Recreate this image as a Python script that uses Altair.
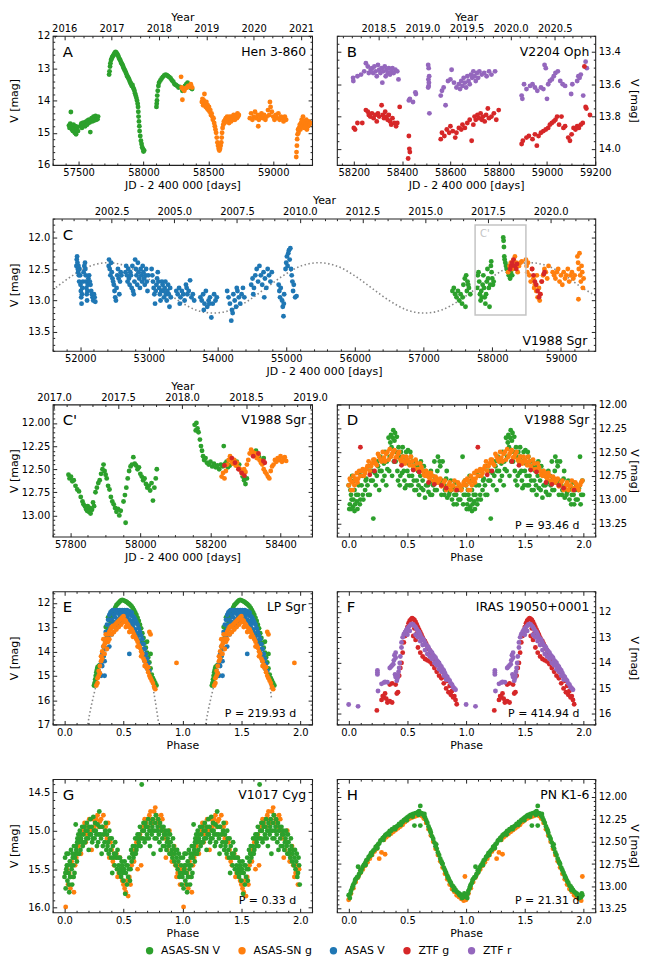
import math
import pandas as pd
import altair as alt

FONT = "DejaVu Sans"
SERIES = ["ASAS-SN V", "ASAS-SN g", "ASAS V", "ZTF g", "ZTF r"]
COLORS = ["#2ca02c", "#ff7f0e", "#1f77b4", "#d62728", "#9467bd"]
JD_TITLE = "JD - 2 400 000 [days]"
PHASE_TITLE = "Phase"
Y_TITLE = "V [mag]"
YEAR_TITLE = "Year"
NAMES = {"A": "Hen 3-860", "B": "V2204 Oph", "C": "V1988 Sgr", "C'": "V1988 Sgr",
         "D": "V1988 Sgr", "E": "LP Sgr", "F": "IRAS 19050+0001", "G": "V1017 Cyg", "H": "PN K1-6"}
PERIODS = {"D": "P = 93.46 d", "E": "P = 219.93 d", "F": "P = 414.94 d", "G": "P = 0.33 d", "H": "P = 21.31 d"}

# ---------------- Panel A : Hen 3-860 (JD, V) ----------------
A_SNV = [(57425,14.78),(57430,14.85),(57435,14.72),(57440,14.36),(57442,14.8),(57448,14.9),(57452,14.82),
         (57455,14.95),(57460,14.75),(57465,14.88),(57470,15.0),(57475,14.8),(57480,15.05),(57485,14.9),
         (57490,14.82),(57495,14.95),(57515,14.8),(57520,14.72),(57525,14.85),(57530,14.7),(57540,14.75),
         (57545,14.68),(57550,14.8),(57555,14.7),(57560,14.65),(57565,14.75),(57570,14.62),(57575,14.7),
         (57580,14.6),(57585,14.68),(57590,14.98),(57595,14.62),(57600,14.55),(57605,14.65),(57610,14.58),
         (57615,14.5),(57620,14.62),(57625,14.55),(57630,14.48),(57635,14.6),(57640,14.52),(57645,14.58),
         (57650,14.5),
         (57735,13.2),(57738,13.1),(57742,12.95),(57745,12.85),(57750,12.75),(57755,12.7),(57760,12.65),
         (57765,12.62),(57770,12.6),(57775,12.55),(57780,12.52),(57785,12.5),(57790,12.52),(57795,12.55),
         (57800,12.58),(57805,12.62),(57810,12.68),(57815,12.72),(57820,12.75),(57825,12.8),(57830,12.85),
         (57835,12.88),(57840,12.92),(57845,12.98),(57850,13.02),(57855,13.06),(57860,13.1),(57865,13.15),
         (57870,13.2),(57875,13.25),(57880,13.28),(57885,13.32),(57890,13.36),(57895,13.42),(57900,13.45),
         (57905,13.5),(57910,13.55),(57915,13.52),(57920,13.6),(57925,13.65),(57930,13.7),(57935,13.78),
         (57940,13.85),(57945,13.92),(57950,14.0),(57955,14.1),(57958,14.2),(57960,14.35),(57962,14.5),
         (57965,14.65),(57968,14.8),(57970,14.95),(57975,15.1),(57980,15.25),(57985,15.35),(57990,15.45),
         (57995,15.5),(58000,15.58),(58005,15.55),
         (58100,14.2),(58102,14.1),(58104,14.0),(58106,13.85),(58110,13.7),(58115,13.55),(58120,13.45),
         (58130,13.38),(58140,13.32),(58150,13.27),(58160,13.23),(58170,13.2),(58180,13.22),(58190,13.25),
         (58200,13.28),(58210,13.32),(58220,13.38),(58230,13.42),(58240,13.5),(58250,13.52),(58260,13.55),
         (58270,13.6),(58280,13.58),(58300,13.7),(58310,13.62),(58320,13.55),(58330,13.5),(58340,13.45),
         (58350,13.55),(58360,13.6),(58370,13.62),(58375,13.65)]
A_SNG = [(58290,13.27),(58295,13.6),(58300,13.98),(58305,13.65),(58315,13.7),(58325,13.62),(58335,13.6),
         (58345,13.55),(58355,13.58),(58365,13.5),(58375,13.6),
         (58450,14.05),(58455,13.95),(58460,14.15),(58465,14.0),(58470,13.8),(58475,14.1),(58480,14.2),
         (58485,14.05),(58490,14.25),(58495,14.15),(58500,14.3),(58505,14.2),(58510,14.35),(58515,14.3),
         (58520,14.45),(58525,14.4),(58530,14.5),(58535,14.6),(58540,14.55),(58545,14.7),(58550,14.8),
         (58555,14.9),(58560,15.0),(58565,15.15),(58570,15.3),(58575,15.4),(58580,15.5),(58585,15.55),
         (58590,15.5),(58595,15.4),(58600,15.3),(58603,15.15),(58606,15.0),(58610,14.85),(58615,14.75),
         (58620,14.65),(58625,14.7),(58630,14.6),(58635,14.55),(58640,14.65),(58645,14.5),(58650,14.6),
         (58655,14.55),(58660,14.7),(58665,14.5),(58670,14.6),(58675,14.65),(58680,14.5),(58685,14.55),
         (58690,14.6),(58695,14.45),(58700,14.55),(58705,14.6),(58710,14.5),(58715,14.45),(58720,14.55),
         (58725,14.4),(58730,14.5),(58735,14.45),
         (58820,14.55),(58830,14.4),(58840,14.6),(58850,14.5),(58860,14.35),(58870,14.55),(58880,14.45),
         (58885,14.8),(58890,14.6),(58900,14.5),(58910,14.4),(58920,14.55),(58930,14.45),(58940,14.6),
         (58950,14.5),(58960,14.3),(58970,14.45),(58975,14.05),(58980,14.2),(58990,14.35),(59000,14.5),
         (59010,14.6),(59020,14.45),(59030,14.55),(59040,14.4),(59050,14.6),(59060,14.5),(59070,14.55),
         (59080,14.65),(59090,14.5),(59100,14.6),
         (59178,15.75),(59180,15.6),(59183,15.4),(59185,15.2),(59188,15.05),(59192,14.9),(59195,15.0),
         (59200,14.85),(59205,14.75),(59210,14.9),(59215,14.7),(59220,14.6),(59225,14.8),(59230,14.5),
         (59235,14.7),(59240,14.85),(59245,14.65),(59250,14.75),(59255,14.6),(59260,14.9),(59265,14.7),
         (59270,14.8),(59275,14.65),(59280,14.75),(59285,14.7)]

# ---------------- Panel B : V2204 Oph ----------------
B_ZR = [(58197,13.56),(58198,13.58),(58215,13.55),(58230,13.54),(58243,13.52),(58250,13.47),(58258,13.49),
        (58262,13.53),(58270,13.51),(58275,13.5),(58280,13.53),(58285,13.49),(58290,13.52),(58295,13.55),
        (58300,13.48),(58305,13.51),(58310,13.53),(58315,13.5),(58318,13.59),(58322,13.52),(58328,13.49),
        (58332,13.55),(58336,13.51),(58340,13.53),(58345,13.5),(58350,13.54),(58355,13.52),(58360,13.5),
        (58365,13.53),(58372,13.51),(58380,13.52),(58385,13.57),(58428,13.7),(58432,13.69),(58445,13.71),
        (58455,13.65),(58457,13.66),(58508,13.48),(58510,13.5),(58509,13.57),(58511,13.59),(58510,13.61),
        (58508,13.62),(58512,13.55),(58513,13.78),(58560,13.67),(58565,13.64),(58572,13.62),(58580,13.73),
        (58590,13.58),(58600,13.57),(58605,13.51),(58615,13.59),(58625,13.62),(58635,13.6),(58640,13.63),
        (58645,13.58),(58650,13.61),(58655,13.56),(58660,13.59),(58665,13.62),(58670,13.55),(58675,13.58),
        (58680,13.6),(58685,13.54),(58690,13.56),(58695,13.52),(58700,13.55),(58705,13.58),(58710,13.53),
        (58715,13.56),(58720,13.52),(58730,13.54),(58740,13.53),(58750,13.55),(58760,13.52),(58770,13.54),
        (58785,13.52),(58895,13.67),(58898,13.69),(58905,13.6),(58915,13.63),(58930,13.61),(58940,13.6),
        (58950,13.62),(58960,13.64),(58975,13.62),(58985,13.63),(58990,13.48),(58995,13.5),(59000,13.69),
        (59005,13.6),(59012,13.58),(59020,13.57),(59028,13.55),(59035,13.53),(59045,13.52),(59055,13.58),
        (59065,13.6),(59075,13.61),(59100,13.66),(59105,13.6),(59125,13.58),(59130,13.55),(59135,13.56),
        (59140,13.54),(59150,13.67),(59160,13.46),(59165,13.5)]
B_ZG = [(58200,13.87),(58205,13.88),(58215,13.84),(58235,13.84),(58250,13.76),(58258,13.77),(58262,13.79),
        (58268,13.8),(58275,13.78),(58282,13.81),(58288,13.79),(58295,13.83),(58300,13.78),(58305,13.8),
        (58315,13.73),(58320,13.79),(58325,13.81),(58330,13.77),(58335,13.8),(58340,13.82),(58345,13.79),
        (58350,13.83),(58355,13.85),(58360,13.81),(58368,13.84),(58375,13.86),(58380,13.84),(58390,13.74),
        (58428,13.92),(58430,14.0),(58432,14.02),(58425,14.06),(58560,13.94),(58565,13.9),(58575,13.92),
        (58585,13.88),(58595,13.9),(58600,13.86),(58610,13.89),(58620,13.93),(58625,13.9),(58635,13.87),
        (58645,13.88),(58650,13.85),(58660,13.87),(58670,13.84),(58680,13.82),(58688,13.95),(58695,13.85),
        (58700,13.8),(58705,13.82),(58712,13.79),(58718,13.81),(58725,13.78),(58730,13.82),(58735,13.8),
        (58742,13.83),(58748,13.79),(58755,13.75),(58760,13.81),(58770,13.8),(58780,13.78),(58790,13.82),
        (58800,13.76),(58895,13.97),(58900,13.95),(58915,13.93),(58925,13.92),(58940,13.94),(58950,13.91),
        (58958,13.98),(58965,13.92),(58975,13.9),(58985,13.89),(58995,13.88),(59005,13.87),(59012,13.85),
        (59020,13.84),(59028,13.83),(59035,13.82),(59042,13.8),(59050,13.85),(59060,13.8),(59068,13.87),
        (59075,13.86),(59088,13.93),(59095,13.95),(59102,13.91),(59110,13.87),(59118,13.88),(59125,13.86),
        (59132,13.87),(59140,13.85),(59148,13.84),(59155,13.49),(59160,13.74),(59163,13.75),(59178,13.79)]

# ---------------- Panel C : V1988 Sgr long term ----------------
C_ASV = [(51945,12.45),(51950,12.35),(51955,12.3),(51960,12.4),(51965,12.5),(51970,12.55),(51975,12.45),
         (51980,12.6),(51985,12.7),(51990,12.5),(52000,12.6),(52005,12.75),(52010,12.85),(52015,12.95),
         (52020,13.05),(52025,12.9),(52030,12.8),(52040,12.7),(52050,12.55),(52060,12.45),(52070,12.4),
         (52075,12.5),(52080,12.6),(52085,12.7),(52090,12.8),(52095,12.9),(52100,13.0),(52105,12.85),
         (52110,12.75),(52120,12.65),(52130,12.6),(52140,12.7),(52150,12.75),(52160,12.85),(52170,12.9),
         (52180,12.95),(52190,13.0),(52200,12.9),(52210,12.95),(52220,13.02),
         (52415,12.45),(52420,12.35),(52430,12.5),(52440,12.6),(52450,12.4),(52460,12.55),(52470,12.65),
         (52480,12.7),(52490,12.75),(52500,12.85),(52510,12.95),(52520,13.0),(52530,12.8),(52540,12.6),
         (52550,12.5),(52560,12.65),(52570,12.9),(52580,12.7),(52590,12.55),(52600,12.6),
         (52660,12.55),(52670,12.45),(52680,12.6),(52690,12.7),(52700,12.5),(52710,12.65),(52720,12.75),
         (52730,12.55),(52740,12.6),(52750,12.8),(52760,12.45),(52770,12.85),(52780,12.9),(52790,12.7),
         (52800,12.35),(52810,12.5),(52820,12.6),(52830,12.75),(52840,12.4),(52850,12.55),(52860,12.65),
         (52870,12.8),(52880,12.5),(52890,12.6),(52900,12.7),(52910,12.45),(52920,12.55),(52930,12.65),
         (52940,12.75),(52950,12.6),(52960,12.5),(52970,12.7),(52980,12.85),(52990,12.6),
         (53040,12.5),(53050,12.6),(53060,12.7),(53070,12.8),(53080,12.9),(53090,13.05),(53100,12.85),
         (53110,12.75),(53120,12.65),(53130,12.55),(53140,12.7),(53150,12.8),(53160,12.9),(53170,13.0),
         (53180,12.85),(53190,12.7),(53200,12.75),(53210,12.85),(53220,12.95),(53230,12.8),(53240,12.7),
         (53250,12.9),(53260,13.0),(53270,12.85),(53280,12.75),(53290,12.9),(53300,13.1),(53310,12.8),
         (53320,12.95),
         (53400,12.85),(53420,12.9),(53440,12.8),(53460,12.95),(53480,12.85),(53500,12.9),(53520,13.0),
         (53540,12.75),(53560,12.9),(53580,12.85),(53600,12.68),(53620,12.95),(53640,12.9),(53660,13.0),
         (53450,13.05),(53550,12.8),
         (53750,12.95),(53770,13.0),(53790,12.9),(53810,13.05),(53830,12.85),(53850,13.1),(53870,13.0),
         (53890,12.95),(53910,13.27),(53930,13.05),(53950,12.9),(53970,13.0),(53990,12.95),(53800,13.15),
         (53880,13.05),
         (54140,12.85),(54160,12.95),(54180,13.05),(54200,13.32),(54210,13.15),(54230,12.9),(54250,13.0),
         (54270,13.1),(54290,12.85),(54310,12.95),(54330,13.05),(54350,12.9),(54370,12.8),(54390,12.95),
         (54220,13.2),(54280,12.8),
         (54490,12.75),(54510,12.65),(54530,12.8),(54550,12.6),(54570,12.5),(54590,12.7),(54610,12.45),
         (54630,12.6),(54650,12.75),(54670,12.55),(54690,12.65),(54710,12.8),(54730,12.5),(54750,12.6),
         (54770,12.7),(54790,12.55),(54520,12.9),(54680,12.95),
         (54890,12.75),(54900,12.85),(54910,12.95),(54920,12.8),(54940,13.0),(54950,13.1),(54960,13.25),
         (54965,13.05),(54970,12.9),(54990,12.5),(55000,12.4),(55010,12.3),(55020,12.45),(55030,12.25),
         (55040,12.2),(55050,12.35),(55060,12.17),(55070,12.5),(55080,12.6),(55090,12.7),(55100,12.85),
         (55110,12.75),(55130,12.95),(55150,12.93)]
C_SNV = [(57420,12.85),(57440,12.8),(57460,12.9),(57480,12.95),(57500,12.85),(57520,13.0),(57540,12.9),
         (57560,13.05),(57580,12.75),(57600,12.65),(57620,12.6),(57640,12.7),(57660,12.8),(57680,12.9),
         (57610,13.1),(57570,12.95),(57630,12.85),(57650,12.75),
         (57780,12.8),(57790,12.6),(57800,12.55),(57810,12.7),(57820,12.9),(57830,13.0),(57840,12.85),
         (57850,12.95),(57860,12.75),(57870,12.6),(57880,12.8),(57890,12.95),(57900,13.05),(57910,12.9),
         (57920,12.7),(57930,12.5),(57940,12.65),(57950,12.8),(57960,13.1),(57970,12.75),(57980,12.45),
         (57990,12.55),(58000,12.65),(58010,12.75),(57985,12.38),(58020,12.7),
         (58160,12.0),(58165,12.05),(58170,12.15),(58175,12.3),(58180,12.35),(58190,12.4),(58200,12.45),
         (58210,12.5),(58220,12.45),(58230,12.55),(58240,12.6),(58250,12.5),(58260,12.65),(58270,12.55),
         (58280,12.45),(58290,12.6),(58300,12.5)]
C_SNG = [(58230,12.55),(58250,12.45),(58270,12.4),(58290,12.5),(58310,12.35),(58330,12.3),(58350,12.4),
         (58370,12.55),(58390,12.45),(58410,12.4),(58430,12.38),
         (58490,12.35),(58500,12.45),(58510,12.55),(58520,12.4),(58540,12.6),(58560,12.7),(58580,12.5),
         (58600,12.65),(58620,12.75),(58640,12.85),(58660,12.95),(58680,12.8),(58700,12.9),(58720,12.7),
         (58740,12.6),(58760,12.5),(58780,12.55),(58800,12.65),(58820,12.45),(58690,13.0),(58650,12.6),
         (58610,12.8),
         (58880,12.55),(58900,12.6),(58920,12.65),(58940,12.55),(58960,12.5),(58980,12.7),(59000,12.6),
         (59020,12.75),(59040,12.55),(59060,12.65),(59080,12.6),(59100,12.5),(59120,12.7),(59140,12.6),
         (59160,12.55),(59180,12.65),(59200,12.6),
         (59240,12.3),(59250,12.4),(59260,12.5),(59270,12.25),(59280,12.6),(59290,12.7),(59300,12.45),
         (59310,12.55),(59320,12.8),(59330,12.65),(59255,12.98)]
C_ZG = [(58260,12.5),(58275,12.45),(58290,12.4),(58310,12.35),(58330,12.45),(58350,12.5),(58360,12.42),
        (58580,12.5),(58600,12.6),(58620,12.7),(58640,12.75),(58660,12.85),(58680,12.95),(58700,12.9),
        (58720,12.7),(58760,12.55),(58750,12.58)]
C_MODEL = [(51600,12.83),(51638,12.8),(51894,12.6),(52149,12.45),(52405,12.4),(52661,12.45),(52917,12.6),
           (53173,12.8),(53428,13.0),(53684,13.15),(53940,13.2),(54196,13.15),(54452,13.0),(54707,12.8),
           (54963,12.6),(55219,12.45),(55475,12.4),(55731,12.45),(55987,12.6),(56242,12.8),(56498,13.0),
           (56754,13.15),(57010,13.2),(57266,13.15),(57521,13.0),(57777,12.8),(58033,12.6),(58289,12.45),
           (58545,12.4),(58801,12.45),(59056,12.6),(59312,12.8),(59500,12.92)]

# ---------------- Panel C' : V1988 Sgr zoom ----------------
CP_SNV = [(57795,12.56),(57798,12.6),(57802,12.58),(57806,12.63),(57810,12.62),(57815,12.68),(57820,12.72),
          (57825,12.74),(57830,12.8),(57835,12.85),(57838,12.88),(57842,12.9),(57845,12.93),(57848,12.95),
          (57850,12.9),(57853,12.96),(57856,12.92),(57858,12.98),(57862,12.94),(57865,12.86),(57868,12.9),
          (57872,12.75),(57876,12.7),(57880,12.65),(57884,12.62),(57888,12.55),(57892,12.5),(57895,12.45),
          (57898,12.52),(57901,12.56),(57904,12.6),(57908,12.68),(57912,12.72),(57916,12.8),(57920,12.85),
          (57924,12.88),(57928,12.92),(57932,12.96),(57936,12.93),(57940,13.0),(57944,12.95),(57958,13.08),
          (57952,12.85),(57956,12.78),(57960,12.7),(57964,12.6),(57968,12.52),(57972,12.47),(57976,12.45),
          (57980,12.37),(57984,12.44),(57988,12.46),(57992,12.5),(57996,12.48),(58000,12.55),(58004,12.58),
          (58008,12.62),(58012,12.6),(58016,12.66),(58020,12.7),(58024,12.68),(58028,12.73),(58032,12.65),
          (58036,12.84),(58040,12.7),(58044,12.6),(58047,12.5),
          (58155,12.02),(58158,12.08),(58160,12.0),(58163,12.06),(58166,12.1),(58170,12.18),(58173,12.25),
          (58176,12.3),(58179,12.36),(58182,12.4),(58186,12.38),(58190,12.43),(58195,12.45),(58200,12.42),
          (58205,12.47),(58210,12.44),(58215,12.48),(58220,12.46),(58225,12.5),(58230,12.45),(58235,12.47),
          (58238,12.25),(58242,12.44),(58246,12.42),(58250,12.48),(58255,12.46),(58275,12.42),(58282,12.45),
          (58292,12.58),(58296,12.62),(58300,12.66),(58304,12.6),(58330,12.3),(58338,12.36),(58345,12.4),
          (58352,12.38)]
CP_SNG = [(58232,12.58),(58236,12.54),(58240,12.6),(58244,12.52),(58248,12.45),(58252,12.4),(58256,12.36),
          (58260,12.42),(58264,12.44),(58268,12.4),(58272,12.46),(58276,12.43),(58280,12.48),(58284,12.5),
          (58288,12.52),(58292,12.55),(58296,12.5),(58300,12.53),(58304,12.45),(58308,12.4),(58312,12.33),
          (58316,12.29),(58320,12.31),(58324,12.35),(58328,12.33),(58332,12.38),(58336,12.35),(58340,12.4),
          (58344,12.43),(58348,12.45),(58352,12.5),(58356,12.53),(58360,12.55),(58364,12.58),(58368,12.6),
          (58372,12.52),(58376,12.47),(58380,12.45),(58384,12.4),(58388,12.42),(58392,12.38),(58396,12.4),
          (58400,12.36),(58404,12.42),(58408,12.39),(58412,12.37),(58416,12.41)]
CP_ZG = [(58240,12.46),(58261,12.38),(58270,12.43),(58280,12.5),(58289,12.54),(58297,12.57),(58322,12.36),
         (58337,12.33),(58351,12.41),(58355,12.43)]

# ---------------- Panel D : V1988 Sgr folded (phase 0-1) ----------------
D_SNV = [(0.00,12.85),(0.01,13.05),(0.02,12.95),(0.02,13.1),(0.03,12.75),(0.04,13.0),(0.05,12.9),(0.05,13.12),
         (0.06,12.8),(0.07,13.02),(0.08,12.95),(0.09,12.72),(0.10,13.0),(0.11,12.85),(0.12,12.95),(0.13,12.7),
         (0.14,12.9),(0.15,12.78),(0.16,12.85),(0.17,12.65),(0.18,12.95),(0.19,12.8),(0.20,12.7),(0.21,13.2),
         (0.22,12.6),(0.23,12.85),(0.24,12.75),(0.25,12.65),(0.26,12.9),(0.27,12.55),(0.28,12.7),(0.29,12.8),
         (0.30,12.62),(0.31,12.5),(0.32,12.85),(0.33,12.68),(0.34,12.35),(0.35,12.55),(0.36,12.32),(0.37,12.75),
         (0.38,12.27),(0.39,12.38),(0.40,12.6),(0.41,12.34),(0.42,12.8),(0.43,12.55),(0.44,12.75),(0.45,12.6),
         (0.46,12.45),(0.47,12.7),(0.48,12.88),(0.49,12.5),(0.50,12.7),(0.51,12.62),(0.52,12.85),(0.53,12.55),
         (0.54,12.75),(0.55,12.68),(0.56,12.9),(0.57,12.6),(0.58,12.8),(0.59,12.7),(0.60,12.95),(0.61,12.75),
         (0.62,12.88),(0.63,12.8),(0.64,12.65),(0.65,12.98),(0.66,12.85),(0.67,12.75),(0.68,12.92),(0.69,12.82),
         (0.70,12.7),(0.71,12.95),(0.72,12.85),(0.73,12.6),(0.74,12.78),(0.75,12.9),(0.76,12.55),(0.77,12.82),
         (0.78,12.65),(0.79,12.95),(0.80,12.6),(0.81,12.85),(0.82,12.9),(0.83,12.78),(0.84,12.98),(0.85,12.85),
         (0.86,12.92),(0.87,12.8),(0.88,13.0),(0.89,12.88),(0.90,12.95),(0.91,12.82),(0.92,13.05),(0.93,12.9),
         (0.94,12.85),(0.95,13.0),(0.96,12.88),(0.97,12.55),(0.98,12.95),(0.99,12.8),
         (0.005,13.1),(0.015,12.9),(0.025,13.0),(0.035,13.08),(0.045,12.8),(0.055,13.05),(0.065,12.95),
         (0.075,13.1),(0.085,12.85),(0.095,13.05),(0.115,12.75),(0.125,13.0),(0.145,12.8),(0.165,12.95),
         (0.185,12.7),(0.205,12.8),(0.225,12.72),(0.245,12.6),(0.265,12.7),(0.285,12.6),(0.305,12.75),
         (0.325,12.6),(0.345,12.7),(0.355,12.4),(0.365,12.45),(0.375,12.35),(0.385,12.6),(0.395,12.3),
         (0.405,12.5),(0.415,12.7),(0.425,12.45),(0.435,12.85),(0.445,12.5),(0.455,12.72),(0.465,12.55),
         (0.475,12.8),(0.485,12.6),(0.495,12.85),(0.505,12.48),(0.515,12.75),(0.525,12.5),(0.535,12.85),
         (0.545,12.6),(0.555,12.8),(0.565,12.65),(0.575,12.9),(0.585,12.65),(0.595,12.85),(0.615,12.6),
         (0.635,12.9),(0.655,12.7),(0.675,12.85),(0.695,12.95),(0.715,12.75),(0.735,12.9),(0.755,12.7),
         (0.775,12.6),(0.795,12.8),(0.815,12.95),(0.835,12.7),(0.855,12.95),(0.875,12.9),(0.895,13.05),
         (0.915,12.95),(0.935,13.0),(0.955,12.9),(0.975,13.05),(0.995,12.95)]
D_SNG = [(0.00,12.85),(0.01,12.78),(0.02,12.9),(0.03,12.82),(0.04,12.75),(0.05,12.85),(0.06,12.8),(0.07,12.72),
         (0.08,12.78),(0.09,12.7),(0.10,12.75),(0.12,12.68),(0.14,12.72),(0.16,12.65),(0.18,12.7),(0.20,12.62),
         (0.22,12.58),(0.24,12.64),(0.26,12.55),(0.28,12.6),(0.30,12.56),(0.32,12.52),(0.34,12.58),(0.35,12.47),
         (0.36,12.55),(0.38,12.5),(0.40,12.56),(0.42,12.52),(0.44,12.58),(0.46,12.55),(0.48,12.62),(0.50,12.58),
         (0.52,12.64),(0.54,12.6),(0.56,12.68),(0.58,12.62),(0.60,12.7),(0.62,12.66),(0.64,12.74),(0.66,12.7),
         (0.68,12.76),(0.70,12.72),(0.72,12.8),(0.74,12.76),(0.76,12.82),(0.78,12.78),(0.80,12.85),(0.82,12.8),
         (0.84,12.88),(0.86,12.82),(0.88,12.86),(0.90,12.8),(0.92,12.88),(0.94,12.84),(0.96,12.9),(0.98,12.82),
         (0.53,12.55),(0.57,12.58),(0.45,12.6),
         (0.015,12.8),(0.035,12.9),(0.055,12.78),(0.075,12.82),(0.11,12.7),(0.13,12.75),(0.15,12.68),
         (0.17,12.6),(0.19,12.65),(0.21,12.58),(0.23,12.62),(0.25,12.52),(0.27,12.58),(0.29,12.5),(0.31,12.6),
         (0.33,12.5),(0.37,12.52),(0.39,12.48),(0.41,12.55),(0.43,12.5),(0.47,12.6),(0.49,12.55),(0.51,12.6),
         (0.55,12.65),(0.59,12.68),(0.61,12.62),(0.63,12.7),(0.65,12.75),(0.67,12.72),(0.69,12.78),(0.71,12.75),
         (0.73,12.82),(0.75,12.78),(0.77,12.8),(0.79,12.86),(0.81,12.82),(0.83,12.9),(0.85,12.85),(0.87,12.9),
         (0.89,12.85),(0.91,12.9),(0.93,12.82),(0.95,12.88),(0.97,12.85),(0.99,12.8)]
D_ZG = [(0.10,12.45),(0.18,12.74),(0.22,12.7),(0.39,12.6),(0.45,12.64),(0.55,12.69),(0.60,12.71),(0.68,12.82),
        (0.73,12.84),(0.79,12.85),(0.83,12.88),(0.92,12.9)]

# ---------------- Panel E : LP Sgr folded ----------------
E_SNV = [(0.25,15.4),(0.255,15.3),(0.26,15.15),(0.265,15.0),(0.27,14.85),(0.275,14.75),(0.28,14.65),(0.29,14.6),
         (0.30,14.55),(0.32,14.4),(0.33,14.2),(0.34,13.9),(0.35,13.6),(0.36,13.35),(0.37,13.1),(0.38,12.9),
         (0.39,12.75),(0.40,12.6),(0.41,12.45),(0.42,12.3),(0.43,12.2),(0.44,12.1),(0.45,12.05),(0.46,12.0),
         (0.47,11.95),(0.48,11.9),(0.49,11.88),(0.50,11.9),(0.51,11.92),(0.52,11.95),(0.53,11.98),(0.54,12.02),
         (0.55,12.05),(0.56,12.1),(0.57,12.15),(0.58,12.22),(0.59,12.3),(0.60,12.4),(0.61,12.5),(0.62,12.62),
         (0.63,12.75),(0.64,12.9),(0.65,13.05),(0.66,13.25),(0.67,13.45),(0.68,13.65),(0.69,13.85),(0.70,14.05),
         (0.71,14.25),(0.72,14.45),(0.73,14.7),(0.74,14.95),(0.75,15.1),(0.76,15.2),(0.77,15.3),(0.78,15.4),
         (0.35,13.0),(0.37,12.6),(0.42,12.55),(0.62,13.3),(0.66,13.6),(0.70,13.6),(0.73,14.1),(0.68,14.3)]
E_ASV = [(0.30,14.9),(0.31,15.0),(0.32,14.6),(0.33,14.2),(0.33,13.8),(0.34,13.5),(0.34,14.4),(0.35,13.2),
         (0.35,13.9),(0.36,12.9),(0.36,13.6),(0.37,12.7),(0.37,13.4),(0.38,12.5),(0.38,13.1),(0.38,13.8),
         (0.39,12.4),(0.39,12.9),(0.40,12.35),(0.40,12.7),(0.40,13.3),(0.41,12.3),(0.41,13.0),(0.42,12.5),
         (0.42,12.8),(0.43,12.3),(0.43,12.6),(0.44,12.4),(0.44,12.9),(0.45,12.3),(0.45,12.7),(0.46,12.45),
         (0.46,12.95),(0.47,12.3),(0.47,12.6),(0.48,12.4),(0.48,12.8),(0.49,12.3),(0.49,12.55),(0.50,12.35),
         (0.50,12.7),(0.51,12.3),(0.51,12.5),(0.52,12.4),(0.52,12.75),(0.53,12.3),(0.53,12.6),(0.54,12.45),
         (0.54,12.85),(0.55,12.35),(0.55,14.1),(0.55,12.7),(0.56,12.5),(0.56,12.9),(0.57,12.4),(0.57,12.75),
         (0.58,12.55),(0.58,13.0),(0.59,12.6),(0.59,12.85),(0.60,12.7),(0.60,13.1),(0.61,12.8),(0.61,13.25),
         (0.62,12.9),(0.62,13.4),(0.63,13.05),(0.63,13.55),(0.64,13.2),(0.64,13.7),(0.65,13.35),(0.65,13.9),
         (0.66,13.5),(0.66,14.05),(0.67,13.7),(0.67,14.2),(0.68,13.9),(0.68,14.4),(0.69,14.1),(0.69,14.55),
         (0.70,14.3),(0.70,14.7),(0.71,14.5),(0.72,14.8),(0.34,15.0),(0.32,14.1),(0.31,14.5)]
E_SNG = [(0.27,15.4),(0.28,15.3),(0.28,15.1),(0.29,15.0),(0.29,14.8),(0.30,14.6),(0.30,14.9),(0.31,14.4),
         (0.31,14.2),(0.32,14.0),(0.32,14.3),(0.33,13.8),(0.33,13.5),(0.34,13.7),(0.34,14.1),(0.35,13.6),
         (0.35,13.3),(0.36,13.5),(0.36,13.9),(0.37,13.3),(0.37,13.6),(0.38,13.2),(0.38,13.5),(0.39,13.1),
         (0.40,13.0),(0.40,13.3),(0.41,12.95),(0.42,13.0),(0.42,13.2),(0.43,12.9),(0.44,12.85),(0.44,13.1),
         (0.45,12.8),(0.46,12.75),(0.46,13.0),(0.47,12.7),(0.48,12.65),(0.48,12.9),(0.49,12.6),(0.50,12.55),
         (0.50,12.8),(0.51,12.7),(0.52,12.75),(0.52,13.0),(0.53,12.85),(0.54,12.9),(0.55,13.0),(0.55,13.2),
         (0.56,13.05),(0.57,13.1),(0.58,13.2),(0.58,13.4),(0.59,13.3),(0.60,13.4),(0.61,13.5),(0.62,13.6),
         (0.62,13.8),(0.63,13.75),(0.64,13.85),(0.65,14.0),(0.65,14.2),(0.66,14.1),(0.67,14.3),(0.68,14.4),
         (0.68,14.6),(0.69,14.55),(0.70,14.7),(0.71,14.85),(0.71,14.65),(0.72,15.0),(0.73,15.1),(0.74,15.2),
         (0.75,15.3),(0.76,15.45),(0.77,15.55),(0.72,13.2),(0.73,13.3),(0.95,14.47)]
E_MODEL1 = [(0.197,17.0),(0.22,16.4),(0.25,15.75),(0.28,15.15),(0.31,14.6),(0.34,14.1),(0.37,13.65),(0.40,13.25),
            (0.43,12.95),(0.46,12.7),(0.49,12.55),(0.52,12.5),(0.55,12.55),(0.58,12.7),(0.61,12.95),(0.64,13.3),
            (0.67,13.75),(0.70,14.3),(0.73,14.95),(0.76,15.75),(0.80,17.0)]
E_MODEL2 = [(1.197,17.0),(1.22,16.4),(1.25,15.75),(1.28,15.15),(1.31,14.6),(1.34,14.1),(1.37,13.65),(1.40,13.25),
            (1.43,12.95),(1.46,12.7),(1.49,12.55),(1.52,12.5),(1.55,12.55),(1.58,12.7),(1.61,12.95),(1.64,13.3),
            (1.67,13.75),(1.70,14.3),(1.73,14.95),(1.755,15.9)]

# ---------------- Panel F : IRAS 19050+0001 folded ----------------
F_ZG = [(0.24,15.86),(0.28,15.45),(0.29,15.3),(0.30,15.35),(0.31,15.2),(0.32,15.4),(0.33,15.55),(0.35,15.5),
        (0.37,15.55),(0.35,14.85),(0.37,14.8),(0.40,14.85),(0.41,15.2),(0.42,15.15),(0.43,14.5),(0.44,14.2),
        (0.45,14.0),(0.46,13.6),(0.47,13.2),(0.48,12.95),(0.49,12.75),(0.50,12.6),(0.51,12.45),(0.52,12.35),
        (0.53,12.3),(0.54,12.25),(0.55,12.28),(0.56,12.32),(0.57,12.4),(0.58,12.5),(0.59,12.6),(0.60,12.7),
        (0.61,12.8),(0.62,12.9),(0.63,13.0),(0.64,13.1),(0.65,13.15),(0.66,13.25),(0.67,13.35),(0.68,13.45),
        (0.69,13.5),(0.70,13.6),(0.72,13.75),(0.74,13.9),(0.76,14.05),(0.78,14.2),(0.80,14.35),(0.82,14.5),
        (0.84,14.7),(0.86,14.9),(0.88,15.1),(0.90,15.3),(0.91,15.45),(0.92,15.62),(0.55,12.95),(0.57,13.1),
        (0.59,13.4),(0.61,13.6),(0.63,13.75),(0.65,13.85),(0.67,13.9),(0.69,13.95),(0.71,14.05),(0.73,14.2),
        (0.75,14.35),(0.77,14.5),(0.79,14.6),(0.81,14.8),(0.83,15.0),(0.85,15.15),(0.87,15.25),(0.89,15.35),
        (0.56,12.65),(0.58,12.85)]
F_ZR = [(0.00,15.63),(0.08,15.7),(0.245,14.3),(0.245,14.38),(0.245,14.45),(0.25,15.1),(0.28,14.82),(0.30,14.77),
        (0.31,14.75),(0.33,14.76),(0.35,14.2),(0.36,14.15),(0.37,14.1),(0.38,14.05),(0.385,13.9),(0.39,13.7),
        (0.40,13.6),(0.40,13.8),(0.395,14.45),(0.40,14.55),(0.41,14.7),(0.415,14.6),(0.42,14.5),(0.425,14.35),
        (0.43,14.2),(0.435,14.0),(0.44,13.75),(0.45,13.4),(0.45,13.2),(0.46,13.0),(0.47,12.88),(0.48,12.8),
        (0.49,12.72),(0.50,12.65),(0.51,12.6),(0.52,12.55),(0.53,12.5),(0.54,12.48),(0.55,12.5),(0.56,12.55),
        (0.57,12.6),(0.58,12.68),(0.59,12.75),(0.60,12.8),(0.61,12.9),(0.62,13.0),(0.63,13.05),(0.64,13.1),
        (0.65,13.2),(0.66,13.3),(0.67,13.35),(0.68,13.4),(0.69,13.5),(0.70,13.55),(0.71,13.6),(0.72,13.7),
        (0.73,13.75),(0.74,13.8),(0.75,13.9),(0.76,13.95),(0.77,14.0),(0.78,14.1),(0.79,14.15),(0.80,14.25),
        (0.81,14.3),(0.82,14.4),(0.83,14.5),(0.84,14.55),(0.85,14.65),(0.86,14.7),(0.87,14.8),(0.88,14.85),
        (0.89,14.95),(0.90,15.0),(0.91,15.05),(0.57,12.9),(0.59,13.0),(0.61,13.15),(0.63,13.3),(0.65,13.5),
        (0.67,13.65),(0.69,13.75),(0.71,13.85),(0.73,14.0),(0.75,14.1),(0.77,14.25),(0.79,14.35),(0.81,14.5),
        (0.83,14.65),(0.50,12.9),(0.52,12.75)]

# ---------------- Panel G : V1017 Cyg folded ----------------
G_SNG = [(0.01,15.99),(0.02,15.5),(0.03,15.7),(0.05,15.75),(0.06,15.4),(0.08,15.8),(0.10,15.35),(0.12,15.2),
         (0.14,15.3),(0.16,15.0),(0.18,15.15),(0.20,14.95),(0.22,15.0),(0.24,14.85),(0.26,14.9),(0.28,14.8),
         (0.30,14.88),(0.32,14.95),(0.33,14.8),(0.34,15.05),(0.36,15.1),(0.38,15.35),(0.40,15.25),(0.42,15.45),
         (0.44,15.3),(0.46,15.55),(0.48,15.5),(0.50,15.7),(0.52,15.8),(0.54,15.85),(0.55,15.6),(0.57,15.45),
         (0.59,15.4),(0.61,15.15),(0.63,15.1),(0.65,15.45),(0.67,15.0),(0.69,14.9),(0.71,14.95),(0.73,14.75),
         (0.75,14.9),(0.77,14.7),(0.79,14.85),(0.81,14.95),(0.83,14.85),(0.85,15.1),(0.87,15.25),(0.89,15.0),
         (0.91,15.4),(0.93,15.2),(0.95,15.6),(0.97,15.45),(0.99,15.5),(0.23,15.25),(0.37,14.9),(0.47,15.35),
         (0.62,15.5),(0.86,15.35),
         (0.04,15.55),(0.07,15.6),(0.09,15.45),(0.11,15.3),(0.13,15.1),(0.15,15.15),(0.17,14.9),(0.19,15.05),
         (0.21,14.85),(0.25,14.95),(0.27,14.85),(0.29,14.95),(0.31,14.85),(0.35,14.95),(0.39,15.15),(0.41,15.4),
         (0.43,15.35),(0.45,15.6),(0.49,15.65),(0.51,15.75),(0.53,15.65),(0.56,15.7),(0.58,15.3),(0.60,15.25),
         (0.64,15.05),(0.66,14.95),(0.68,14.85),(0.70,14.85),(0.72,14.8),(0.74,14.85),(0.76,14.75),(0.78,14.8),
         (0.80,14.9),(0.82,14.8),(0.84,15.0),(0.88,15.15),(0.90,15.3),(0.92,15.3),(0.94,15.45),(0.96,15.55),
         (0.98,15.7)]
G_SNV = [(0.00,15.6),(0.005,15.35),(0.01,15.75),(0.015,15.5),(0.02,15.45),(0.025,15.65),(0.03,15.3),(0.035,15.55),
         (0.04,15.8),(0.045,15.4),(0.05,15.6),(0.055,15.25),(0.06,15.5),(0.065,15.7),(0.07,15.35),(0.075,15.45),
         (0.08,15.2),(0.085,15.55),(0.09,15.3),(0.095,14.92),(0.10,15.25),(0.105,15.4),(0.11,15.1),(0.115,15.3),
         (0.12,15.15),(0.13,15.0),(0.135,15.25),(0.14,15.1),(0.15,14.95),(0.155,15.2),(0.16,15.05),(0.17,14.95),
         (0.175,15.15),(0.18,15.0),(0.19,14.9),(0.20,15.1),(0.205,15.25),(0.21,14.95),(0.22,14.85),(0.225,15.05),
         (0.23,14.95),(0.24,15.1),(0.245,14.82),(0.25,15.0),(0.26,14.9),(0.27,15.05),(0.275,15.2),(0.28,14.92),
         (0.29,15.05),(0.295,14.75),(0.30,14.95),(0.31,15.1),(0.315,15.3),(0.32,14.95),(0.33,15.05),(0.34,15.15),
         (0.35,14.9),(0.355,15.25),(0.36,15.05),(0.37,15.15),(0.38,15.0),(0.39,15.25),(0.40,15.1),(0.405,15.55),
         (0.41,15.2),(0.42,15.3),(0.43,15.15),(0.44,15.35),(0.45,15.25),(0.46,15.45),(0.47,15.35),(0.48,15.6),
         (0.49,15.45),(0.50,15.65),(0.51,15.4),(0.515,15.82),(0.52,15.55),(0.53,15.7),(0.535,15.45),(0.54,15.6),
         (0.55,15.35),(0.56,15.5),(0.565,15.25),(0.57,15.4),(0.58,15.2),(0.59,15.3),(0.60,15.1),(0.61,15.25),
         (0.62,15.05),(0.63,15.15),(0.64,14.95),(0.65,15.1),(0.655,14.4),(0.66,15.0),(0.67,14.9),(0.68,15.15),
         (0.69,14.95),(0.70,15.05),(0.71,14.85),(0.72,15.0),(0.725,15.2),(0.73,14.9),(0.74,15.05),(0.75,14.85),
         (0.755,15.3),(0.76,15.0),(0.77,14.9),(0.775,14.8),(0.78,15.1),(0.79,14.95),(0.80,15.05),(0.81,14.9),
         (0.815,15.25),(0.82,15.0),(0.83,15.1),(0.84,14.95),(0.85,15.2),(0.86,15.05),(0.87,15.15),(0.88,15.0),
         (0.89,15.3),(0.90,15.15),(0.91,15.25),(0.92,15.1),(0.93,15.4),(0.94,15.25),(0.95,15.35),(0.96,15.5),
         (0.97,15.3),(0.98,15.55),(0.99,15.45),(0.995,15.7),
         (0.0075,15.55),(0.0175,15.3),(0.0275,15.45),(0.0375,15.7),(0.0475,15.6),(0.0575,15.45),(0.0675,15.3),
         (0.0775,15.6),(0.0875,15.35),(0.0975,15.2),(0.1075,15.15),(0.1175,15.05),(0.125,15.3),(0.138,15.05),
         (0.145,15.15),(0.165,15.15),(0.185,15.1),(0.195,15.0),(0.215,15.05),(0.235,15.15),(0.255,15.1),
         (0.265,15.0),(0.285,15.15),(0.305,15.05),(0.325,15.2),(0.345,15.0),(0.365,15.2),(0.375,15.3),
         (0.385,15.1),(0.395,15.35),(0.415,15.35),(0.425,15.45),(0.435,15.3),(0.445,15.5),(0.455,15.35),
         (0.465,15.55),(0.475,15.5),(0.485,15.4),(0.495,15.55),(0.505,15.5),(0.525,15.45),(0.545,15.5),
         (0.555,15.65),(0.575,15.3),(0.585,15.35),(0.595,15.2),(0.605,15.3),(0.615,15.1),(0.625,15.2),
         (0.635,15.05),(0.645,15.2),(0.665,15.1),(0.675,15.0),(0.685,14.9),(0.695,15.1),(0.705,14.95),
         (0.715,15.1),(0.735,15.0),(0.745,14.95),(0.765,15.1),(0.785,15.0),(0.795,14.85),(0.805,15.15),
         (0.825,14.95),(0.835,15.2),(0.845,15.05),(0.855,15.0),(0.865,15.25),(0.875,15.1),(0.885,15.2),
         (0.895,15.05),(0.905,15.3),(0.915,15.35),(0.925,15.2),(0.935,15.3),(0.945,15.45),(0.955,15.25),
         (0.965,15.4),(0.975,15.6),(0.985,15.35)]

# ---------------- Panel H : PN K1-6 folded ----------------
H_SNG = [(0.00,13.15),(0.02,13.08),(0.04,13.02),(0.06,12.95),(0.08,12.9),(0.10,12.85),(0.12,12.81),(0.14,12.77),
         (0.16,12.73),(0.18,12.69),(0.20,12.65),(0.22,12.61),(0.24,12.58),(0.26,12.69),(0.28,12.62),(0.30,12.48),
         (0.31,12.64),(0.32,12.45),(0.34,12.43),(0.36,12.41),(0.38,12.39),(0.40,12.37),(0.42,12.35),(0.44,12.33),
         (0.46,12.31),(0.48,12.28),(0.50,12.26),(0.52,12.24),(0.54,12.23),(0.56,12.22),(0.58,12.21),(0.60,12.2),
         (0.62,12.21),(0.64,12.24),(0.66,12.29),(0.68,12.36),(0.70,12.43),(0.72,12.5),(0.74,12.58),(0.76,12.65),
         (0.78,12.72),(0.80,12.79),(0.82,12.86),(0.84,12.92),(0.86,12.98),(0.88,13.03),(0.90,13.06),(0.92,13.1),
         (0.94,13.12),(0.96,13.14),(0.98,13.16),(0.99,12.89)]
H_SNV = [(0.00,13.10),(0.01,13.13),(0.02,13.05),(0.03,13.02),(0.04,12.98),(0.05,12.96),(0.06,12.92),(0.07,12.90),
         (0.08,12.78),(0.085,12.88),(0.09,12.86),(0.10,12.82),(0.11,12.81),(0.12,12.78),(0.13,12.76),(0.14,12.74),
         (0.15,12.71),(0.16,12.70),(0.17,12.67),(0.18,12.66),(0.19,12.63),(0.20,12.62),(0.21,12.60),(0.22,12.59),
         (0.23,12.56),(0.24,12.55),(0.25,12.53),(0.26,12.52),(0.27,12.49),(0.28,12.48),(0.29,12.46),(0.30,12.45),
         (0.31,12.43),(0.32,12.42),(0.33,12.41),(0.34,12.40),(0.35,12.38),(0.36,12.38),(0.37,12.36),(0.38,12.36),
         (0.39,12.34),(0.40,12.34),(0.41,12.33),(0.42,12.32),(0.43,12.30),(0.44,12.30),(0.45,12.28),(0.46,12.28),
         (0.47,12.26),(0.48,12.25),(0.49,12.24),(0.50,12.23),(0.51,12.22),(0.52,12.21),(0.53,12.20),(0.54,12.20),
         (0.55,12.19),(0.56,12.32),(0.57,12.18),(0.58,12.18),(0.59,12.17),(0.60,12.16),(0.61,12.10),(0.61,12.32),
         (0.62,12.18),(0.63,12.19),(0.64,12.21),(0.65,12.23),(0.66,12.26),(0.67,12.29),(0.68,12.33),(0.69,12.36),
         (0.70,12.40),(0.71,12.44),(0.72,12.47),(0.73,12.51),(0.74,12.55),(0.75,12.58),(0.76,12.62),(0.77,12.65),
         (0.78,12.69),(0.79,12.72),(0.80,12.75),(0.81,12.79),(0.82,12.82),(0.83,12.85),(0.84,12.88),(0.85,12.91),
         (0.86,12.94),(0.87,12.96),(0.88,12.99),(0.89,13.00),(0.90,13.02),(0.91,13.04),(0.92,13.06),(0.93,13.07),
         (0.94,13.08),(0.95,13.09),(0.96,13.10),(0.97,13.11),(0.98,13.12),(0.99,13.10),
         (0.015,13.08),(0.035,13.0),(0.055,12.93),(0.075,12.9),(0.105,12.84),(0.145,12.76),(0.195,12.65),
         (0.245,12.57),(0.295,12.48),(0.345,12.42),(0.395,12.36),(0.445,12.31),(0.495,12.26),(0.545,12.22),
         (0.595,12.20),(0.645,12.19),(0.695,12.38),(0.745,12.53),(0.795,12.74),(0.845,12.9),(0.895,13.04),
         (0.945,13.1),(0.965,13.13),(0.985,13.08)]

# ---------------- axis ranges / ticks ----------------
def jd2yr(j):
    return 2000.0 + (j - 51544.5) / 365.25

PH = dict(dom=[-0.1, 2.1], maj=[0.0, 0.5, 1.0, 1.5, 2.0], step=0.1, fmt=".1f")
XA = dict(dom=[57300, 59300], maj=[57500, 58000, 58500, 59000], step=100, fmt="d")
YA = dict(dom=[12.0, 16.0], maj=[12, 13, 14, 15, 16], step=0.2, fmt="d")
TA = dict(dom=[jd2yr(57300), jd2yr(59300)], maj=[2016, 2017, 2018, 2019, 2020, 2021], step=0.2, fmt="d")
XB = dict(dom=[58130, 59200], maj=[58200, 58400, 58600, 58800, 59000, 59200], step=50, fmt="d")
YB = dict(dom=[13.3, 14.1], maj=[13.4, 13.6, 13.8, 14.0], step=0.05, fmt=".1f")
TB = dict(dom=[jd2yr(58130), jd2yr(59200)], maj=[2018.5, 2019.0, 2019.5, 2020.0, 2020.5], step=0.1, fmt=".1f")
XC = dict(dom=[51600, 59500], maj=[52000, 53000, 54000, 55000, 56000, 57000, 58000, 59000], step=200, fmt="d")
YC = dict(dom=[11.7, 13.8], maj=[12.0, 12.5, 13.0, 13.5], step=0.1, fmt=".1f")
TC = dict(dom=[jd2yr(51600), jd2yr(59500)], maj=[2002.5, 2005.0, 2007.5, 2010.0, 2012.5, 2015.0, 2017.5, 2020.0],
          step=0.5, fmt=".1f")
XCP = dict(dom=[57750, 58490], maj=[57800, 58000, 58200, 58400], step=50, fmt="d")
YCP = dict(dom=[11.8, 13.23], maj=[12.0, 12.25, 12.5, 12.75, 13.0], step=0.05, fmt=".2f")
TCP = dict(dom=[jd2yr(57750), jd2yr(58490)], maj=[2017.0, 2017.5, 2018.0, 2018.5, 2019.0], step=0.1, fmt=".1f")
YD = dict(dom=[12.0, 13.39], maj=[12.0, 12.25, 12.5, 12.75, 13.0, 13.25], step=0.05, fmt=".2f")
YE = dict(dom=[11.53, 17.0], maj=[12, 13, 14, 15, 16, 17], step=0.2, fmt="d")
YF = dict(dom=[11.2, 16.41], maj=[12, 13, 14, 15, 16], step=0.2, fmt="d")
YG = dict(dom=[14.33, 16.06], maj=[14.5, 15.0, 15.5, 16.0], step=0.1, fmt=".1f")
YH = dict(dom=[11.8, 13.29], maj=[12.0, 12.25, 12.5, 12.75, 13.0, 13.25], step=0.05, fmt=".2f")


def minors(dom, step, majors):
    lo, hi = dom
    out = []
    for k in range(math.ceil(lo / step - 1e-6), math.floor(hi / step + 1e-6) + 1):
        v = round(k * step, 6)
        if min(abs(v - m) for m in majors) > step / 10:
            out.append(v)
    return out


def build(series, fold=False):
    xs, ys, ss = [], [], []
    for name, pts in series:
        for (x, y) in pts:
            xs.append(x); ys.append(y); ss.append(name)
        if fold:
            for (x, y) in pts:
                xs.append(x + 1.0); ys.append(y); ss.append(name)
    return pd.DataFrame({"x": xs, "y": ys, "s": ss})


PSIZE = 24
MAJ, MIN = 4, 2
TICK = "#222222"
LEG_X, LEG_Y = 92, 915
CSCALE = alt.Scale(domain=SERIES, range=COLORS)
LEGEND = alt.Legend(orient="none", legendX=LEG_X, legendY=LEG_Y, direction="horizontal", title=None,
                    symbolType="circle", symbolSize=55, symbolStrokeWidth=0, labelFontSize=11,
                    labelFont=FONT, columnPadding=16, labelOffset=6)


def txt(t, x, y, align, size, color="black"):
    return alt.Chart(pd.DataFrame({"t": [t]})).mark_text(
        align=align, baseline="alphabetic", fontSize=size, font=FONT, color=color
    ).encode(text="t:N", x=alt.value(x), y=alt.value(y))


def panel(df, xs, ys, w, h, xtitle, yright, letter, name_bottom=False, period=None, year=None,
          under=None, over=None):
    xsc = alt.Scale(domain=xs["dom"], nice=False, zero=False)
    ysc = alt.Scale(domain=ys["dom"], nice=False, zero=False, reverse=True)
    yor = "right" if yright else "left"
    layers = []
    if under:
        layers += under(xsc, ysc)
    layers.append(alt.Chart(df).mark_circle(size=PSIZE, opacity=1, clip=True).encode(
        x=alt.X("x:Q", scale=xsc, axis=alt.Axis(orient="bottom", values=xs["maj"], format=xs["fmt"], title=xtitle,
                                                ticks=False, domain=False, grid=False, labelPadding=3,
                                                labelFlush=False, labelOverlap=False, titlePadding=2)),
        y=alt.Y("y:Q", scale=ysc, axis=alt.Axis(orient=yor, values=ys["maj"], format=ys["fmt"], title=Y_TITLE,
                                                ticks=False, domain=False, grid=False, labelPadding=3,
                                                labelFlush=False, labelOverlap=False, titlePadding=2,
                                                minExtent=31, maxExtent=31)),
        color=alt.Color("s:N", scale=CSCALE, legend=LEGEND),
    ))
    if over:
        layers += over(xsc, ysc)
    tiny = pd.DataFrame({"x": [xs["dom"][0]], "y": [ys["dom"][0]], "yr": [year["dom"][0] if year else 0.0]})
    xmin = minors(xs["dom"], xs["step"], xs["maj"])
    ymin = minors(ys["dom"], ys["step"], ys["maj"])
    if year:
        tsc = alt.Scale(domain=year["dom"], nice=False, zero=False)
        tmaj, tmin, tf = year["maj"], minors(year["dom"], year["step"], year["maj"]), "yr"
    else:
        tsc, tmaj, tmin, tf = xsc, xs["maj"], xmin, "x"

    def tax(orient, vals, size):
        return alt.Axis(orient=orient, values=vals, labels=False, ticks=True, domain=False, grid=False,
                        tickSize=size, offset=-size, title=None, tickColor=TICK, tickWidth=1, zindex=1)

    base = alt.Chart(tiny).mark_point(opacity=0)
    layers.append(base.encode(x=alt.X("x:Q", scale=xsc, axis=tax("bottom", xs["maj"], MAJ)),
                              y=alt.Y("y:Q", scale=ysc, axis=tax("left", ys["maj"], MAJ))))
    layers.append(base.encode(x=alt.X("x:Q", scale=xsc, axis=tax("bottom", xmin, MIN)),
                              y=alt.Y("y:Q", scale=ysc, axis=tax("left", ymin, MIN))))
    layers.append(base.encode(x=alt.X(tf + ":Q", scale=tsc, axis=tax("top", tmaj, MAJ)),
                              y=alt.Y("y:Q", scale=ysc, axis=tax("right", ys["maj"], MAJ))))
    layers.append(base.encode(x=alt.X(tf + ":Q", scale=tsc, axis=tax("top", tmin, MIN)),
                              y=alt.Y("y:Q", scale=ysc, axis=tax("right", ymin, MIN))))
    if year:
        layers.append(base.encode(x=alt.X("yr:Q", scale=tsc, axis=alt.Axis(
            orient="top", values=year["maj"], format=year["fmt"], title=YEAR_TITLE, ticks=False, domain=False,
            grid=False, labelPadding=2, labelFlush=False, labelOverlap=False, titlePadding=1))))
    layers.append(txt(letter, 10, 21, "left", 15))
    if name_bottom:
        layers.append(txt(NAMES[letter], w - 8, h - 6, "right", 12.5))
    else:
        layers.append(txt(NAMES[letter], w - 6, 20, "right", 12.5))
    if period:
        layers.append(txt(period, w - 16, h - 8, "right", 11))
    return alt.layer(*layers).resolve_scale(x="independent", y="independent").properties(width=w, height=h)


def c_under(xsc, ysc):
    d = pd.DataFrame({"x": [p[0] for p in C_MODEL], "y": [p[1] for p in C_MODEL]})
    return [alt.Chart(d).mark_line(color="#888888", strokeDash=[1.5, 2.5], strokeWidth=1.6,
                                   interpolate="monotone", clip=True).encode(
        x=alt.X("x:Q", scale=xsc, axis=None), y=alt.Y("y:Q", scale=ysc, axis=None))]


def c_over(xsc, ysc):
    box = pd.DataFrame({"x0": [XCP["dom"][0]], "x1": [XCP["dom"][1]], "y0": [YCP["dom"][0]],
                        "y1": [YCP["dom"][1]], "t": ["C'"]})
    r = alt.Chart(box).mark_rect(fillOpacity=0, stroke="#c4c4c4", strokeWidth=1.5).encode(
        x=alt.X("x0:Q", scale=xsc, axis=None), x2="x1:Q",
        y=alt.Y("y0:Q", scale=ysc, axis=None), y2="y1:Q")
    t = alt.Chart(box).mark_text(align="left", baseline="top", dx=5, dy=4, fontSize=10, font=FONT,
                                 color="#c4c4c4").encode(
        x=alt.X("x0:Q", scale=xsc, axis=None), y=alt.Y("y0:Q", scale=ysc, axis=None), text="t:N")
    return [r, t]


def e_under(xsc, ysc):
    rows = [(x, y, 1) for x, y in E_MODEL1] + [(x, y, 2) for x, y in E_MODEL2]
    d = pd.DataFrame(rows, columns=["x", "y", "k"])
    return [alt.Chart(d).mark_line(color="#888888", strokeDash=[1.5, 2.5], strokeWidth=1.6,
                                   interpolate="monotone", clip=True).encode(
        x=alt.X("x:Q", scale=xsc, axis=None), y=alt.Y("y:Q", scale=ysc, axis=None), detail="k:N")]


WL, WR, H1, H2 = 261, 260, 130, 133

pA = panel(build([("ASAS-SN V", A_SNV), ("ASAS-SN g", A_SNG)]), XA, YA, WL, H1, JD_TITLE, False, "A", year=TA)
pB = panel(build([("ZTF r", B_ZR), ("ZTF g", B_ZG)]), XB, YB, WR, H1, JD_TITLE, True, "B", year=TB)
pC = panel(build([("ASAS V", C_ASV), ("ASAS-SN V", C_SNV), ("ASAS-SN g", C_SNG), ("ZTF g", C_ZG)]),
           XC, YC, WL + 25 + WR, H2, JD_TITLE, False, "C", name_bottom=True, year=TC, under=c_under, over=c_over)
pCp = panel(build([("ASAS-SN V", CP_SNV), ("ASAS-SN g", CP_SNG), ("ZTF g", CP_ZG)]),
            XCP, YCP, WL, H2, JD_TITLE, False, "C'", year=TCP)
pD = panel(build([("ASAS-SN V", D_SNV), ("ASAS-SN g", D_SNG), ("ZTF g", D_ZG)], fold=True),
           PH, YD, WR, H2, PHASE_TITLE, True, "D", period=PERIODS["D"])
pE = panel(build([("ASAS-SN V", E_SNV), ("ASAS V", E_ASV), ("ASAS-SN g", E_SNG)], fold=True),
           PH, YE, WL, 134, PHASE_TITLE, False, "E", period=PERIODS["E"], under=e_under)
pF = panel(build([("ZTF g", F_ZG), ("ZTF r", F_ZR)], fold=True),
           PH, YF, WR, 134, PHASE_TITLE, True, "F", period=PERIODS["F"])
pG = panel(build([("ASAS-SN g", G_SNG), ("ASAS-SN V", G_SNV)], fold=True),
           PH, YG, WL, 134, PHASE_TITLE, False, "G", period=PERIODS["G"])
pH = panel(build([("ASAS-SN g", H_SNG), ("ASAS-SN V", H_SNV)], fold=True),
           PH, YH, WR, 134, PHASE_TITLE, True, "H", period=PERIODS["H"])

row1 = alt.hconcat(pA, pB, spacing=25, bounds="flush")
row3 = alt.hconcat(pCp, pD, spacing=25, bounds="flush")
row4 = alt.hconcat(pE, pF, spacing=25, bounds="flush")
row5 = alt.hconcat(pG, pH, spacing=25, bounds="flush")
top = alt.vconcat(row1, pC, row3, spacing=2)

chart = alt.vconcat(top, row4, row5, spacing=24).properties(
    padding={"left": 0, "top": 0, "right": 0, "bottom": 0}
).configure(font=FONT).configure_view(stroke="#222222", strokeWidth=1.1).configure_axis(
    labelFont=FONT, titleFont=FONT, labelFontSize=10, titleFontSize=11, labelColor="black",
    titleColor="black", titleFontWeight="normal"
)

chart.save("out.html", embed_options={"renderer": "svg", "actions": False})
